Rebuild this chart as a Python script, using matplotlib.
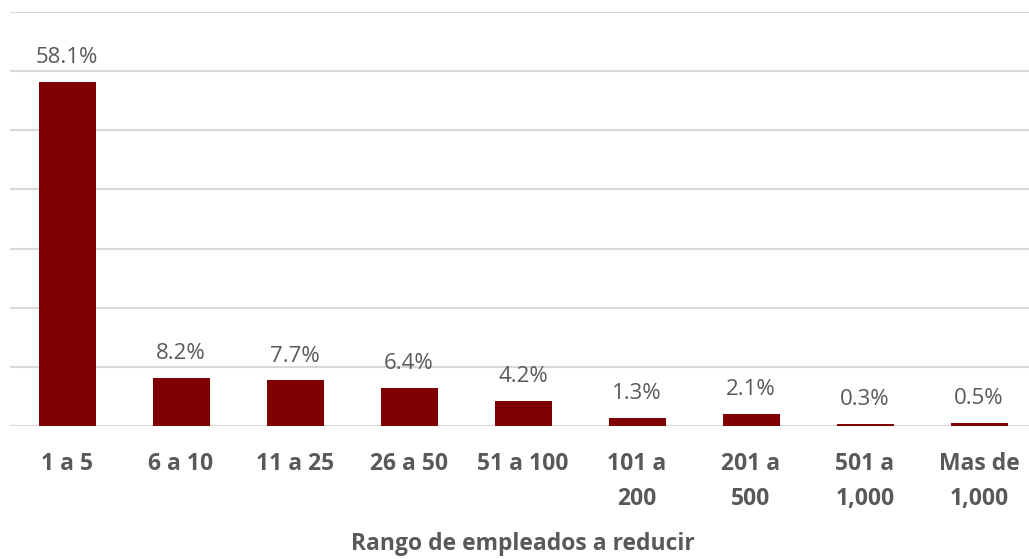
import matplotlib.pyplot as plt
import numpy as np

plt.rcParams['font.family'] = ['Open Sans', 'DejaVu Sans']

rangos = ['1 a 5', '6 a 10', '11 a 25', '26 a 50', '51 a 100',
          '101 a\n200', '201 a\n500', '501 a\n1,000', 'Mas de\n1,000']
porcentajes = [58.1, 8.2, 7.7, 6.4, 4.2, 1.3, 2.1, 0.3, 0.5]

rojo = '#7f0000'
gris = '#595959'

fig = plt.figure(figsize=(10.29, 5.59), dpi=100)
ax = fig.add_axes([10 / 1029, 133 / 559, 1026 / 1029, 414 / 559])

x = np.arange(len(rangos))
ax.bar(x, porcentajes, width=0.5, color=rojo, zorder=3)

for xi, v in zip(x, porcentajes):
    ax.annotate(f'{v}%', (xi, v), xytext=(0, 10), textcoords='offset points',
                ha='center', va='bottom', fontsize=16, color=gris)

ax.set_xlim(-0.5, len(rangos) - 0.5)
ax.set_ylim(0, 70)
ax.set_yticks(np.arange(0, 71, 10))
ax.yaxis.grid(True, color='#d9d9d9', linewidth=1.5, zorder=0)
ax.tick_params(axis='y', left=False, labelleft=False)
ax.tick_params(axis='x', length=0, pad=19)

ax.set_xticks(x)
ax.set_xticklabels(rangos, fontsize=16.5, fontweight='bold', color=gris,
                   linespacing=1.6, va='top')
ax.set_xlabel('Rango de empleados a reducir', fontsize=16.5, fontweight='bold',
              color=gris, labelpad=15)

for s in ax.spines.values():
    s.set_visible(False)

fig.savefig('out.png', dpi=100)
